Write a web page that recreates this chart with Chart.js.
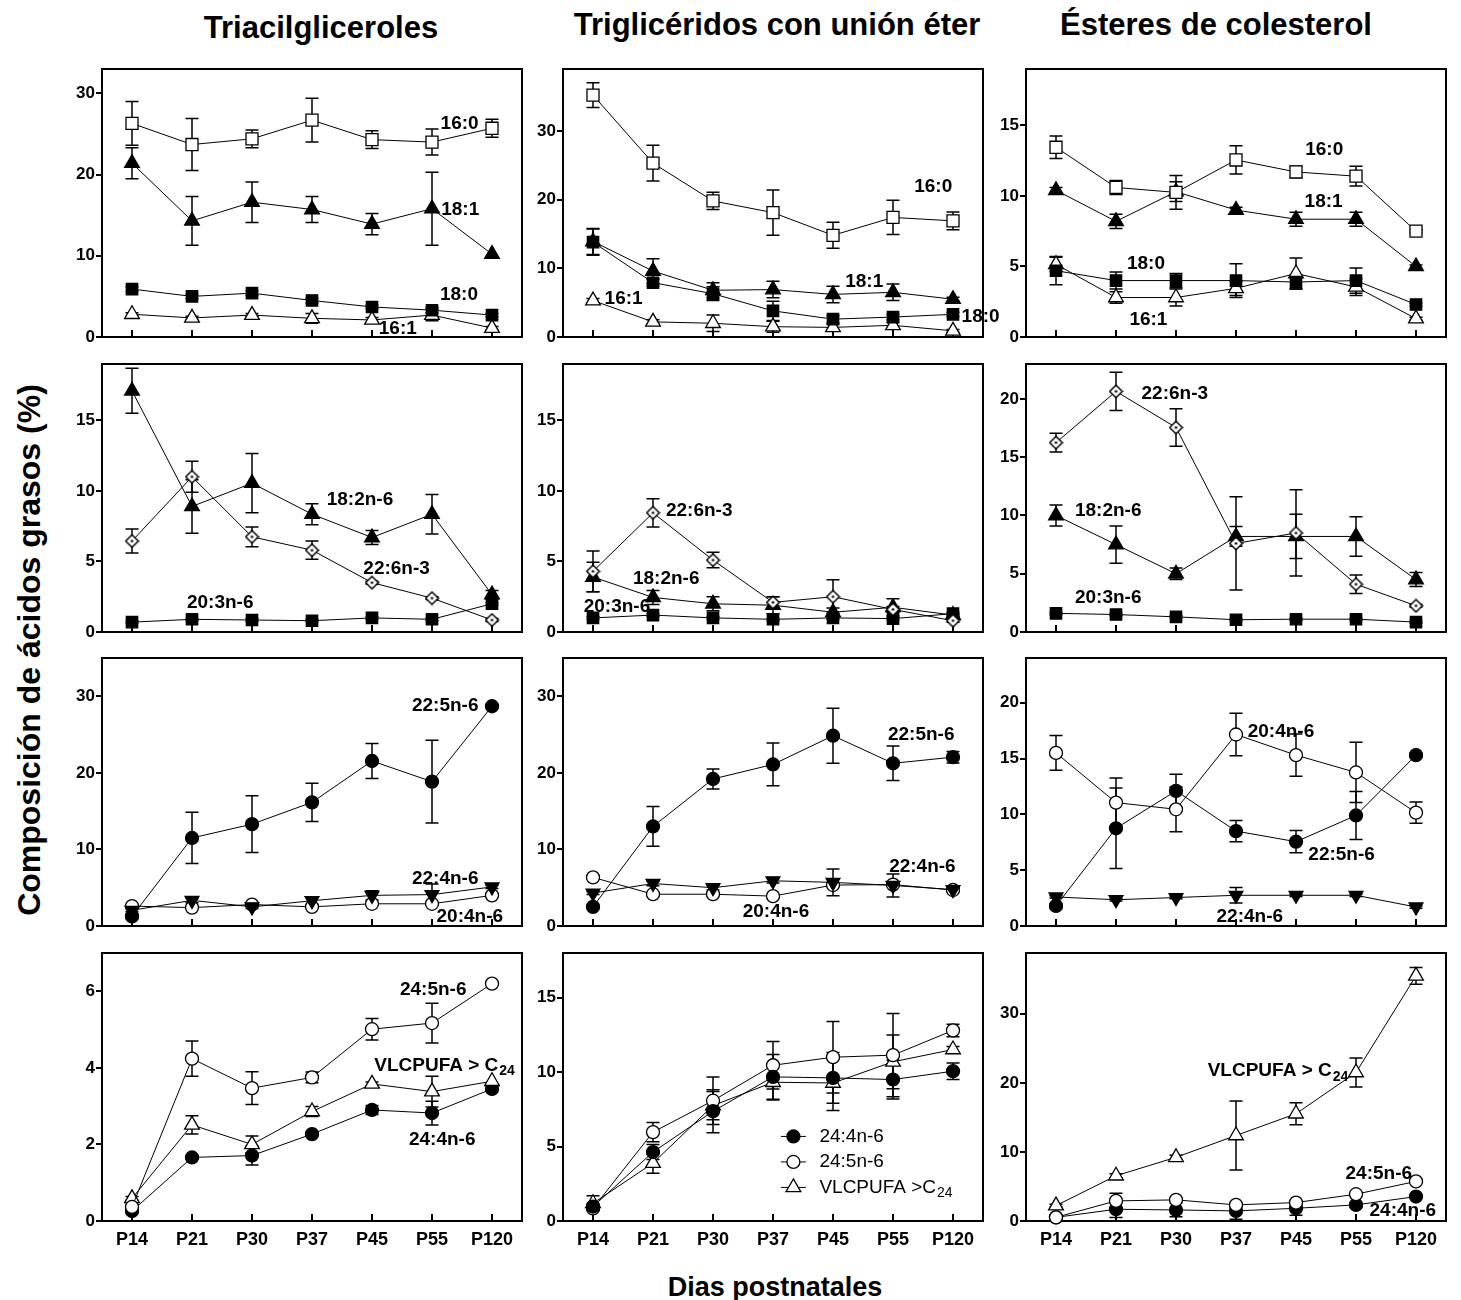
<!DOCTYPE html>
<html>
<head>
<meta charset="utf-8">
<script src="https://cdn.jsdelivr.net/npm/chart.js@4.4.1/dist/chart.umd.min.js"></script>
<style>
  html, body { margin: 0; padding: 0; background: #fff; }
  #page { position: relative; width: 1461px; height: 1300px; overflow: hidden;
          font-family: "Liberation Sans", Arial, sans-serif; }
  #page canvas { position: absolute; }
  .ttl { position: absolute; font-weight: bold; color: #000; white-space: nowrap;
         transform: translate(-50%, -50%); }
</style>
</head>
<body>
<div id="page">
  <div class="ttl" style="left:321px; top:28px; font-size:31px;">Triacilgliceroles</div>
  <div class="ttl" style="left:777px; top:25px; font-size:31px;">Triglicéridos con unión éter</div>
  <div class="ttl" style="left:1216px; top:25px; font-size:31px;">Ésteres de colesterol</div>
  <div class="ttl" style="left:29px; top:650px; font-size:32px; transform: translate(-50%, -50%) rotate(-90deg);">Composición de ácidos grasos (%)</div>
  <div class="ttl" style="left:775px; top:1287px; font-size:27px;">Dias postnatales</div>
</div>
<script>
// ---- categories and tick labels ----
const days = ['P14', 'P21', 'P30', 'P37', 'P45', 'P55', 'P120'];
const ticksBy10 = [0, 10, 20, 30];
const ticksBy5 = [0, 5, 10, 15];
const ticksBy5to20 = [0, 5, 10, 15, 20];
const ticksBy2 = [0, 2, 4, 6];

// ---- Triacilgliceroles ----
const tag160 = [26.3, 23.7, 24.4, 26.7, 24.3, 24.0, 25.7];
const tag160Err = [2.7, 3.2, 1.1, 2.7, 1.1, 1.6, 1.1];
const tag181 = [21.4, 14.3, 16.6, 15.7, 13.9, 15.8, 10.2];
const tag181Err = [1.9, 3.0, 2.5, 1.6, 1.3, 4.5, 0];
const tag180 = [5.9, 5.0, 5.4, 4.5, 3.7, 3.3, 2.7];
const tag180Err = [0.3, 0.3, 0.3, 0.3, 0.2, 0.3, 0.2];
const tag161 = [2.8, 2.35, 2.7, 2.3, 2.1, 2.7, 1.1];
const tag161Err = [0.2, 0.2, 0.2, 0.6, 0.3, 0.7, 0.2];

const tag182 = [17.1, 8.9, 10.55, 8.35, 6.7, 8.35, 2.65];
const tag182Err = [1.6, 1.9, 2.1, 0.75, 0.5, 1.4, 0.3];
const tag226 = [6.45, 11.0, 6.75, 5.8, 3.5, 2.4, 0.85];
const tag226Err = [0.85, 1.1, 0.7, 0.65, 0.1, 0.1, 0.1];
const tag203 = [0.7, 0.9, 0.85, 0.8, 1.0, 0.9, 2.0];
const tag203Err = [0.1, 0.1, 0.1, 0.1, 0.1, 0.1, 0.1];

const tag225 = [1.25, 11.5, 13.3, 16.15, 21.55, 18.85, 28.7];
const tag225Err = [0.3, 3.35, 3.7, 2.5, 2.3, 5.4, 0.2];
const tag224 = [2.05, 3.35, 2.5, 3.3, 4.0, 4.1, 5.1];
const tag224Err = [0.2, 0.3, 0.2, 0.5, 0.6, 1.4, 0.2];
const tag204 = [2.6, 2.4, 2.8, 2.5, 2.9, 2.9, 4.0];
const tag204Err = [0.2, 0.2, 0.2, 0.2, 0.2, 0.2, 0.2];

const tag244 = [0.26, 1.66, 1.71, 2.27, 2.9, 2.82, 3.45];
const tag244Err = [0.05, 0.05, 0.25, 0.05, 0.12, 0.31, 0];
const tag245 = [0.37, 4.24, 3.47, 3.75, 5.01, 5.17, 6.2];
const tag245Err = [0.05, 0.46, 0.43, 0.14, 0.28, 0.52, 0];
const tagVlc = [0.59, 2.51, 2.0, 2.86, 3.58, 3.38, 3.65];
const tagVlcErr = [0.05, 0.24, 0.22, 0.13, 0.05, 0.4, 0];

// ---- Triglicéridos con unión éter ----
const eth160 = [35.2, 25.3, 19.8, 18.1, 14.8, 17.4, 16.9];
const eth160Err = [1.8, 2.6, 1.25, 3.3, 1.9, 2.5, 1.3];
const eth181 = [13.9, 9.6, 6.8, 6.9, 6.2, 6.5, 5.5];
const eth181Err = [1.9, 1.8, 1.1, 1.2, 1.2, 1.2, 0.3];
const eth180 = [13.8, 7.9, 6.3, 3.8, 2.6, 2.9, 3.3];
const eth180Err = [1.9, 0.5, 1.0, 1.4, 0.5, 0.4, 0.3];
const eth161 = [5.3, 2.2, 2.0, 1.5, 1.4, 1.7, 0.9];
const eth161Err = [0.3, 0.3, 1.2, 0.8, 0.5, 0.4, 0.2];

const eth226 = [4.3, 8.45, 5.1, 2.1, 2.5, 1.6, 0.8];
const eth226Err = [1.45, 1.0, 0.55, 0.4, 1.2, 0.2, 0.1];
const eth182 = [3.9, 2.45, 2.0, 1.9, 1.4, 1.75, 1.2];
const eth182Err = [1.05, 0.5, 0.5, 0.6, 0.3, 0.6, 0.1];
const eth203 = [1.0, 1.2, 1.0, 0.9, 1.0, 0.95, 1.3];
const eth203Err = [0.1, 0.1, 0.1, 0.1, 0.1, 0.1, 0.1];

const eth225 = [2.5, 13.0, 19.2, 21.1, 24.85, 21.25, 22.05];
const eth225Err = [0.3, 2.6, 1.3, 2.8, 3.6, 2.25, 0.75];
const eth224 = [4.3, 5.55, 5.0, 5.9, 5.7, 5.3, 4.75];
const eth224Err = [0.2, 0.3, 0.3, 0.3, 1.75, 1.5, 0.2];
const eth204 = [6.35, 4.15, 4.15, 3.9, 5.35, 5.4, 4.7];
const eth204Err = [0.2, 0.2, 0.2, 0.2, 0.2, 0.2, 0.2];

const eth244 = [0.97, 4.63, 7.37, 9.68, 9.61, 9.5, 10.06];
const eth244Err = [0.2, 0.5, 1.45, 1.5, 1.7, 1.3, 0.55];
const eth245 = [0.85, 5.97, 8.08, 10.46, 11.0, 11.14, 12.8];
const eth245Err = [0.1, 0.65, 1.6, 1.6, 2.4, 2.8, 0.42];
const ethVlc = [1.19, 3.89, 7.75, 9.32, 9.27, 10.69, 11.52];
const ethVlcErr = [0.5, 0.68, 0.95, 1.2, 1.85, 1.8, 0.2];

// ---- Ésteres de colesterol ----
const ce160 = [13.45, 10.6, 10.25, 12.55, 11.7, 11.4, 7.5];
const ce160Err = [0.8, 0.5, 1.2, 1.0, 0.4, 0.7, 0.1];
const ce181 = [10.4, 8.2, 10.3, 9.0, 8.35, 8.35, 5.0];
const ce181Err = [0.2, 0.5, 0.7, 0.2, 0.5, 0.5, 0.1];
const ce180 = [4.7, 4.0, 4.0, 4.0, 3.9, 4.0, 2.3];
const ce180Err = [1.0, 0.6, 0.5, 1.2, 0.5, 0.9, 0.1];
const ce161 = [5.15, 2.8, 2.8, 3.45, 4.5, 3.55, 1.3];
const ce161Err = [0.5, 0.4, 0.6, 0.5, 1.1, 0.6, 0.1];

const ce226 = [16.25, 20.65, 17.55, 7.6, 8.5, 4.1, 2.25];
const ce226Err = [0.8, 1.65, 1.6, 4.0, 3.7, 0.8, 0.1];
const ce182 = [10.0, 7.5, 5.0, 8.2, 8.2, 8.2, 4.5];
const ce182Err = [0.9, 1.6, 0.5, 0.85, 1.9, 1.7, 0.6];
const ce203 = [1.6, 1.5, 1.3, 1.05, 1.1, 1.1, 0.85];
const ce203Err = [0.1, 0.1, 0.1, 0.1, 0.1, 0.1, 0.1];

const ce204 = [15.5, 11.05, 10.45, 17.15, 15.3, 13.75, 10.15];
const ce204Err = [1.55, 2.2, 2.0, 1.9, 1.9, 2.7, 0.95];
const ce225 = [1.8, 8.75, 12.1, 8.5, 7.55, 9.9, 15.3];
const ce225Err = [0.2, 3.6, 1.5, 0.95, 1.0, 2.15, 0.2];
const ce224 = [2.6, 2.35, 2.55, 2.75, 2.75, 2.75, 1.7];
const ce224Err = [0.1, 0.1, 0.1, 0.7, 0.1, 0.1, 0.1];

const ceVlc = [2.23, 6.55, 9.22, 12.38, 15.53, 21.5, 35.49];
const ceVlcErr = [0.2, 0.3, 0.3, 5.0, 1.6, 2.1, 1.2];
const ce245 = [0.53, 2.91, 3.06, 2.33, 2.67, 3.88, 5.73];
const ce245Err = [0.1, 1.1, 0.2, 0.2, 0.2, 0.2, 0.2];
const ce244 = [0.53, 1.7, 1.6, 1.46, 1.84, 2.33, 3.54];
const ce244Err = [0.1, 1.2, 1.0, 1.2, 1.0, 0.3, 0.2];

// ---- grid geometry ----
const COL_LEFT = [102, 563, 1026];
const ROW_TOP = [69, 364, 658, 953];
const PLOT_W = 420, PLOT_H = 268;
const PAD_L = 60, PAD_T = 20, PAD_R = 40, PAD_B = 40;
const FONT = '"Liberation Sans", Arial, sans-serif';

// marker for the docosahexaenoic series: open diamond with a centre dot
function makeDiamond() {
  const c = document.createElement('canvas');
  c.width = 15; c.height = 15;
  const g = c.getContext('2d');
  g.beginPath();
  g.moveTo(7.5, 1.2); g.lineTo(13.8, 7.5); g.lineTo(7.5, 13.8); g.lineTo(1.2, 7.5);
  g.closePath();
  g.fillStyle = '#fff'; g.fill();
  g.lineWidth = 1.5; g.strokeStyle = '#000'; g.stroke();
  g.beginPath(); g.arc(7.5, 7.5, 1.3, 0, Math.PI * 2); g.fillStyle = '#000'; g.fill();
  return c;
}
const diamondImg = makeDiamond();

const MARKS = {
  sqOpen:  { style: 'rect', radius: 8.5, fill: '#fff' },
  sqFill:  { style: 'rect', radius: 8, fill: '#000' },
  triFill: { style: 'triangle', radius: 8.5, fill: '#000' },
  triOpen: { style: 'triangle', radius: 8.5, fill: '#fff' },
  triDown: { style: 'triangle', radius: 8, fill: '#000', rotation: 180 },
  dotFill: { style: 'circle', radius: 6.5, fill: '#000' },
  dotOpen: { style: 'circle', radius: 6.5, fill: '#fff' },
  diamond: { style: diamondImg, radius: 7, fill: '#fff' }
};

const panels = [
  { col: 0, row: 0, max: 33, ticks: ticksBy10,
    series: [
      { data: tag160, err: tag160Err, mark: 'sqOpen' },
      { data: tag181, err: tag181Err, mark: 'triFill' },
      { data: tag180, err: tag180Err, mark: 'sqFill' },
      { data: tag161, err: tag161Err, mark: 'triOpen' } ],
    notes: [ { t: '16:0', x: 5.46, y: 26.2 }, { t: '18:1', x: 5.47, y: 15.65 },
             { t: '18:0', x: 5.45, y: 5.15 }, { t: '16:1', x: 4.43, y: 1.04 } ] },
  { col: 1, row: 0, max: 39, ticks: ticksBy10,
    series: [
      { data: eth160, err: eth160Err, mark: 'sqOpen' },
      { data: eth181, err: eth181Err, mark: 'triFill' },
      { data: eth180, err: eth180Err, mark: 'sqFill' },
      { data: eth161, err: eth161Err, mark: 'triOpen' } ],
    notes: [ { t: '16:0', x: 5.67, y: 21.9 }, { t: '18:1', x: 4.52, y: 8.0 },
             { t: '16:1', x: 0.51, y: 5.6 }, { t: '18:0', x: 6.46, y: 2.9 } ] },
  { col: 2, row: 0, max: 19, ticks: ticksBy5,
    series: [
      { data: ce160, err: ce160Err, mark: 'sqOpen' },
      { data: ce181, err: ce181Err, mark: 'triFill' },
      { data: ce180, err: ce180Err, mark: 'sqFill' },
      { data: ce161, err: ce161Err, mark: 'triOpen' } ],
    notes: [ { t: '16:0', x: 4.47, y: 13.27 }, { t: '18:1', x: 4.46, y: 9.6 },
             { t: '18:0', x: 1.50, y: 5.17 }, { t: '16:1', x: 1.54, y: 1.24 } ] },

  { col: 0, row: 1, max: 19, ticks: ticksBy5,
    series: [
      { data: tag182, err: tag182Err, mark: 'triFill' },
      { data: tag226, err: tag226Err, mark: 'diamond' },
      { data: tag203, err: tag203Err, mark: 'sqFill' } ],
    notes: [ { t: '18:2n-6', x: 3.80, y: 9.36 }, { t: '22:6n-3', x: 4.41, y: 4.5 },
             { t: '20:3n-6', x: 1.47, y: 2.09 } ] },
  { col: 1, row: 1, max: 19, ticks: ticksBy5,
    series: [
      { data: eth226, err: eth226Err, mark: 'diamond' },
      { data: eth182, err: eth182Err, mark: 'triFill' },
      { data: eth203, err: eth203Err, mark: 'sqFill' } ],
    notes: [ { t: '22:6n-3', x: 1.77, y: 8.58 }, { t: '18:2n-6', x: 1.22, y: 3.8 },
             { t: '20:3n-6', x: 0.40, y: 1.78 } ] },
  { col: 2, row: 1, max: 23, ticks: ticksBy5to20,
    series: [
      { data: ce226, err: ce226Err, mark: 'diamond' },
      { data: ce182, err: ce182Err, mark: 'triFill' },
      { data: ce203, err: ce203Err, mark: 'sqFill' } ],
    notes: [ { t: '22:6n-3', x: 1.98, y: 20.44 }, { t: '18:2n-6', x: 0.87, y: 10.42 },
             { t: '20:3n-6', x: 0.87, y: 2.97 } ] },

  { col: 0, row: 2, max: 35, ticks: ticksBy10,
    series: [
      { data: tag225, err: tag225Err, mark: 'dotFill' },
      { data: tag224, err: tag224Err, mark: 'triDown' },
      { data: tag204, err: tag204Err, mark: 'dotOpen' } ],
    notes: [ { t: '22:5n-6', x: 5.22, y: 28.7 }, { t: '22:4n-6', x: 5.22, y: 6.12 },
             { t: '20:4n-6', x: 5.63, y: 1.18 } ] },
  { col: 1, row: 2, max: 35, ticks: ticksBy10,
    series: [
      { data: eth225, err: eth225Err, mark: 'dotFill' },
      { data: eth224, err: eth224Err, mark: 'triDown' },
      { data: eth204, err: eth204Err, mark: 'dotOpen' } ],
    notes: [ { t: '22:5n-6', x: 5.47, y: 25.0 }, { t: '22:4n-6', x: 5.49, y: 7.73 },
             { t: '20:4n-6', x: 3.05, y: 1.83 } ] },
  { col: 2, row: 2, max: 24, ticks: ticksBy5to20,
    series: [
      { data: ce204, err: ce204Err, mark: 'dotOpen' },
      { data: ce225, err: ce225Err, mark: 'dotFill' },
      { data: ce224, err: ce224Err, mark: 'triDown' } ],
    notes: [ { t: '20:4n-6', x: 3.75, y: 17.4 }, { t: '22:5n-6', x: 4.76, y: 6.34 },
             { t: '22:4n-6', x: 3.23, y: 0.87 } ] },

  { col: 0, row: 3, max: 7, ticks: ticksBy2,
    series: [
      { data: tag245, err: tag245Err, mark: 'dotOpen' },
      { data: tagVlc, err: tagVlcErr, mark: 'triOpen' },
      { data: tag244, err: tag244Err, mark: 'dotFill' } ],
    notes: [ { t: '24:5n-6', x: 5.02, y: 6.04 }, { t: 'VLCPUFA > C', sub: '24', x: 5.21, y: 4.06 },
             { t: '24:4n-6', x: 5.17, y: 2.12 } ] },
  { col: 1, row: 3, max: 18, ticks: ticksBy5,
    series: [
      { data: eth244, err: eth244Err, mark: 'dotFill', name: '24:4n-6' },
      { data: eth245, err: eth245Err, mark: 'dotOpen', name: '24:5n-6' },
      { data: ethVlc, err: ethVlcErr, mark: 'triOpen', name: 'VLCPUFA >C', sub: '24' } ],
    notes: [],
    legendAt: { x: 3.34, y: 5.68 } },
  { col: 2, row: 3, max: 38.8, ticks: ticksBy10,
    series: [
      { data: ceVlc, err: ceVlcErr, mark: 'triOpen' },
      { data: ce245, err: ce245Err, mark: 'dotOpen' },
      { data: ce244, err: ce244Err, mark: 'dotFill' } ],
    notes: [ { t: 'VLCPUFA > C', sub: '24', x: 3.70, y: 21.7 }, { t: '24:5n-6', x: 5.38, y: 6.9 },
             { t: '24:4n-6', x: 5.78, y: 1.5 } ] }
];

// ---- drawing helpers ----
function drawMark(ctx, markKey, x, y) {
  const m = MARKS[markKey];
  ctx.save();
  ctx.fillStyle = m.fill; ctx.strokeStyle = '#000'; ctx.lineWidth = 1.3;
  ctx.beginPath();
  if (m.style === 'circle') {
    ctx.arc(x, y, m.radius, 0, Math.PI * 2);
  } else if (m.style === 'triangle') {
    const r = m.radius;
    ctx.moveTo(x, y - r);
    ctx.lineTo(x + 0.866 * r, y + 0.5 * r);
    ctx.lineTo(x - 0.866 * r, y + 0.5 * r);
    ctx.closePath();
  } else if (m.style === 'rect') {
    const s = Math.SQRT1_2 * m.radius;
    ctx.rect(x - s, y - s, 2 * s, 2 * s);
  }
  ctx.fill(); ctx.stroke();
  ctx.restore();
}

function drawSubText(ctx, x, y, main, sub, size, weight, align) {
  ctx.save();
  ctx.fillStyle = '#000';
  ctx.textBaseline = 'middle';
  ctx.font = weight + ' ' + size + 'px ' + FONT;
  const wMain = ctx.measureText(main).width;
  const subSize = Math.round(size * 0.72);
  let wSub = 0;
  if (sub) {
    ctx.font = weight + ' ' + subSize + 'px ' + FONT;
    wSub = ctx.measureText(sub).width + 1;
  }
  const total = wMain + wSub;
  const x0 = align === 'left' ? x : x - total / 2;
  ctx.textAlign = 'left';
  ctx.font = weight + ' ' + size + 'px ' + FONT;
  ctx.fillText(main, x0, y);
  if (sub) {
    ctx.font = weight + ' ' + subSize + 'px ' + FONT;
    ctx.fillText(sub, x0 + wMain + 1, y + size * 0.3);
  }
  ctx.restore();
}

// plot frame and inward category ticks
const framePlugin = {
  id: 'frame',
  beforeDatasetsDraw(chart) {
    const { ctx, chartArea: a } = chart;
    const xs = chart.scales.x;
    ctx.save();
    ctx.strokeStyle = '#000';
    ctx.lineWidth = 2;
    ctx.strokeRect(a.left, a.top, a.right - a.left, a.bottom - a.top);
    ctx.beginPath();
    for (let i = 0; i < xs.ticks.length; i++) {
      const px = Math.round(xs.getPixelForTick(i));
      ctx.moveTo(px, a.bottom);
      ctx.lineTo(px, a.bottom - 7);
    }
    ctx.stroke();
    ctx.restore();
  }
};

// vertical error bars with caps, drawn beneath the markers
const errorBarPlugin = {
  id: 'errorBars',
  beforeDatasetsDraw(chart) {
    const ctx = chart.ctx, ys = chart.scales.y;
    ctx.save();
    ctx.strokeStyle = '#000';
    ctx.lineWidth = 1.5;
    chart.data.datasets.forEach((ds, i) => {
      if (!ds.errors) return;
      const meta = chart.getDatasetMeta(i);
      meta.data.forEach((pt, j) => {
        const e = ds.errors[j];
        if (!e) return;
        const v = ds.data[j];
        const yt = ys.getPixelForValue(v + e);
        const yb = ys.getPixelForValue(v - e);
        ctx.beginPath();
        ctx.moveTo(pt.x, yt); ctx.lineTo(pt.x, yb);
        ctx.moveTo(pt.x - 6.5, yt); ctx.lineTo(pt.x + 6.5, yt);
        ctx.moveTo(pt.x - 6.5, yb); ctx.lineTo(pt.x + 6.5, yb);
        ctx.stroke();
      });
    });
    ctx.restore();
  }
};

function notesPlugin(panel) {
  return {
    id: 'seriesNotes',
    afterDatasetsDraw(chart) {
      const ctx = chart.ctx, xs = chart.scales.x, ys = chart.scales.y;
      panel.notes.forEach(n => {
        drawSubText(ctx, xs.getPixelForValue(n.x), ys.getPixelForValue(n.y), n.t, n.sub, 19, 'bold', 'center');
      });
      if (panel.legendAt) {
        const lx = xs.getPixelForValue(panel.legendAt.x);
        let ly = ys.getPixelForValue(panel.legendAt.y);
        panel.series.forEach(s => {
          ctx.save();
          ctx.strokeStyle = '#000'; ctx.lineWidth = 1;
          ctx.beginPath(); ctx.moveTo(lx - 12.5, ly); ctx.lineTo(lx + 12.5, ly); ctx.stroke();
          ctx.restore();
          drawMark(ctx, s.mark, lx, ly);
          drawSubText(ctx, lx + 26, ly, s.name, s.sub, 19, 'normal', 'left');
          ly += 25.5;
        });
      }
    }
  };
}

function toDataset(s) {
  const m = MARKS[s.mark];
  return {
    data: s.data,
    errors: s.err,
    borderColor: '#000',
    borderWidth: 1,
    tension: 0,
    clip: false,
    pointStyle: m.style,
    pointRadius: m.radius,
    pointRotation: m.rotation || 0,
    pointBackgroundColor: m.fill,
    pointBorderColor: '#000',
    pointBorderWidth: 1.3
  };
}

const page = document.getElementById('page');

panels.forEach(p => {
  const cv = document.createElement('canvas');
  cv.width = PLOT_W + PAD_L + PAD_R;
  cv.height = PLOT_H + PAD_T + PAD_B;
  cv.style.left = (COL_LEFT[p.col] - PAD_L) + 'px';
  cv.style.top = (ROW_TOP[p.row] - PAD_T) + 'px';
  cv.style.width = cv.width + 'px';
  cv.style.height = cv.height + 'px';
  page.appendChild(cv);

  new Chart(cv, {
    type: 'line',
    data: { labels: days, datasets: p.series.map(toDataset) },
    options: {
      responsive: false,
      animation: false,
      devicePixelRatio: 1,
      layout: { padding: { left: 0, top: PAD_T, right: PAD_R, bottom: 0 } },
      plugins: { legend: { display: false }, tooltip: { enabled: false } },
      scales: {
        x: {
          type: 'category',
          offset: true,
          grid: { display: false },
          border: { display: false },
          ticks: {
            display: p.row === 3,
            color: '#000',
            font: { family: FONT, size: 18, weight: 'bold' },
            padding: 0,
            maxRotation: 0,
            autoSkip: false
          },
          afterFit(s) { s.height = PAD_B; }
        },
        y: {
          min: 0,
          max: p.max,
          grid: { drawOnChartArea: false, drawTicks: true, tickLength: 6, color: '#000', lineWidth: 2 },
          border: { display: false },
          ticks: { color: '#000', font: { family: FONT, size: 17, weight: 'bold' }, padding: 1 },
          afterBuildTicks(s) { s.ticks = p.ticks.map(v => ({ value: v })); },
          afterFit(s) { s.width = PAD_L; }
        }
      }
    },
    plugins: [framePlugin, errorBarPlugin, notesPlugin(p)]
  });
});
</script>
</body>
</html>
